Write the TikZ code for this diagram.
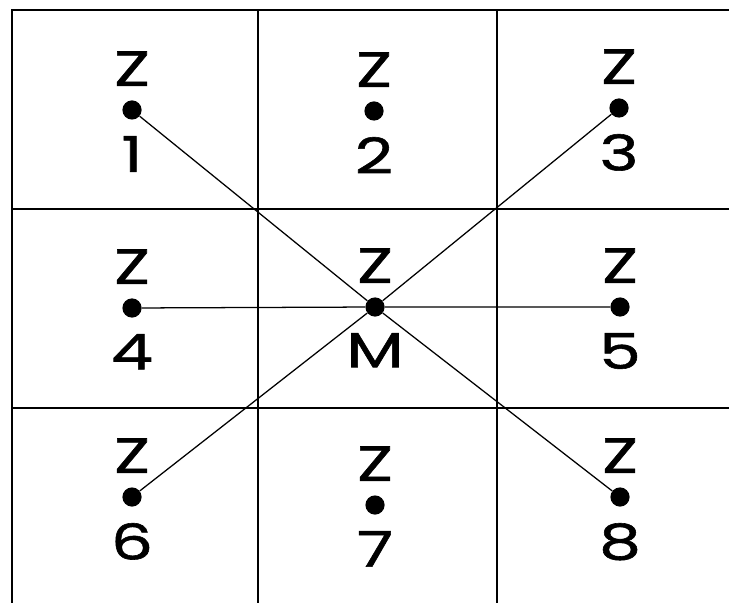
\documentclass[tikz,border=0pt]{standalone}
\usepackage{fontspec}
\setmainfont{Poppins}
\newfontfamily\zfont{Poppins}[FakeBold=1.2,FakeStretch=1.35]
\usetikzlibrary{positioning}

\begin{document}
\begin{tikzpicture}[x=0.025cm,y=-0.025cm,
  grid/.style={line width=1.3pt,draw=black},
  ray/.style={line width=0.9pt,draw=black},
  pt/.style={circle,fill=black,inner sep=0pt,minimum size=0.48cm},
  zlbl/.style={font=\zfont\fontsize{35}{35}\selectfont,inner sep=0pt}
]
  \useasboundingbox (0,0) rectangle (729,603);

  % Grid of cells (open at right and bottom)
  \draw[grid] (12,603) -- (12,10) -- (729,10);
  \draw[grid] (258,10) -- (258,603);
  \draw[grid] (497,10) -- (497,603);
  \draw[grid] (12,209) -- (729,209);
  \draw[grid] (12,408) -- (729,408);

  % Points -- top row
  \node[pt] (z1) at (132,110) {};
  \node[pt] (z2) at (374,111) {};
  \node[pt] (z3) at (619,108) {};

  % Middle row with centre M
  \node[pt] (z4) at (132,308) {};
  \node[pt] (m)  at (375,307) {};
  \node[pt] (z5) at (620,307) {};

  % Bottom row
  \node[pt] (z6) at (132,497) {};
  \node[pt] (z7) at (375,505) {};
  \node[pt] (z8) at (620,497) {};

  % Z above each point, number below
  \foreach \p/\t in {z1/1,z2/2,z3/3,z4/4,m/M,z5/5,z6/6,z7/7,z8/8}{
    \node[zlbl,above=0.35cm of \p] (\p-z) {Z};
    \node[zlbl,below=0.4cm of \p]  (\p-n) {\t};
  }

  % Lines through M
  \draw[ray] (z1) -- (m) -- (z8);
  \draw[ray] (z3) -- (m) -- (z6);
  \draw[ray] (z4) -- (m) -- (z5);
\end{tikzpicture}
\end{document}
